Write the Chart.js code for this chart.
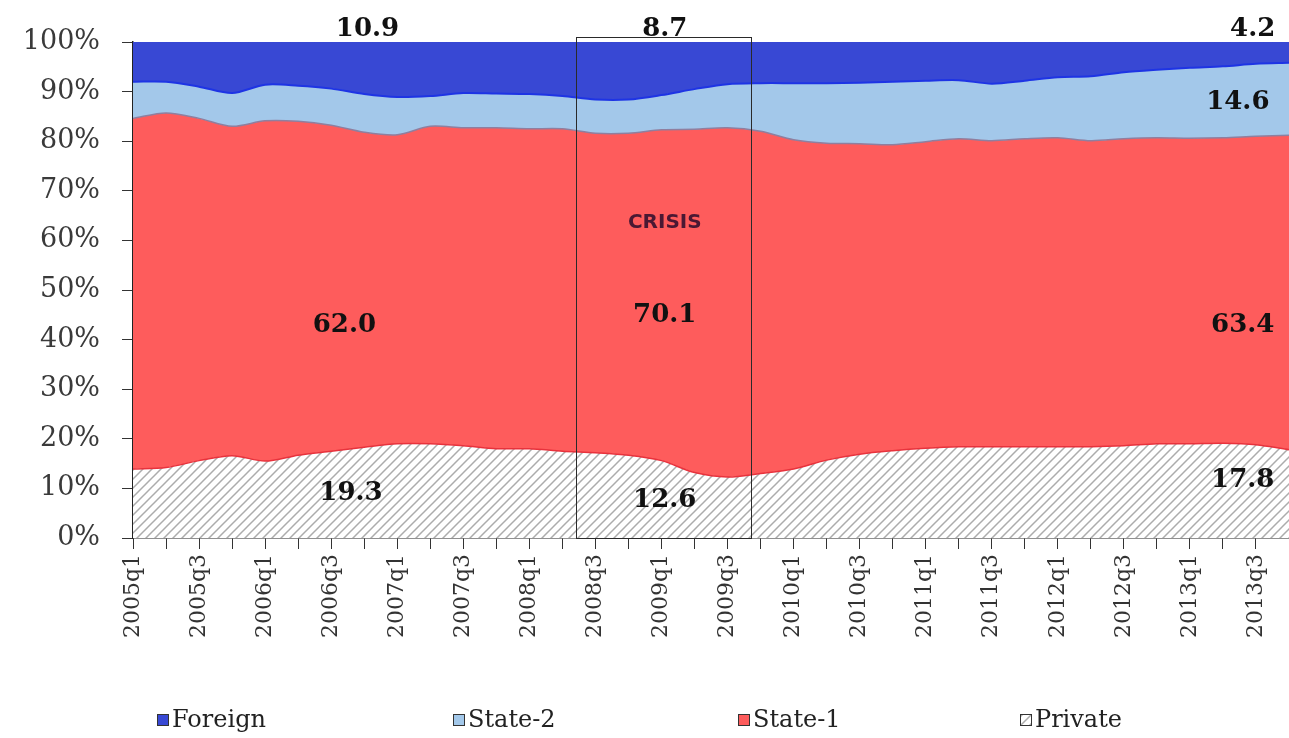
<!DOCTYPE html>
<html>
<head>
<meta charset="utf-8">
<script src="https://cdn.jsdelivr.net/npm/chart.js@4.4.1/dist/chart.umd.min.js"></script>
<style>
  html, body { margin: 0; padding: 0; background: #fff; }
  #wrap { width: 1289px; height: 738px; }
</style>
</head>
<body>
<div id="wrap"><canvas id="shareChart"></canvas></div>
<script>
const quarters = [
  '2005q1','2005q2','2005q3','2005q4','2006q1','2006q2','2006q3','2006q4',
  '2007q1','2007q2','2007q3','2007q4','2008q1','2008q2','2008q3','2008q4',
  '2009q1','2009q2','2009q3','2009q4','2010q1','2010q2','2010q3','2010q4',
  '2011q1','2011q2','2011q3','2011q4','2012q1','2012q2','2012q3','2012q4',
  '2013q1','2013q2','2013q3','2013q4'
];
const tickLabels = [
  '2005q1','2005q3','2006q1','2006q3','2007q1','2007q3','2008q1','2008q3','2009q1',
  '2009q3','2010q1','2010q3','2011q1','2011q3','2012q1','2012q3','2013q1','2013q3'
];

// shares in %, bottom to top
const privateShare = [
  13.9, 14.2, 15.6, 16.6, 15.5, 16.7, 17.5, 18.3, 19.0, 19.0, 18.6, 18.0,
  18.0, 17.5, 17.2, 16.7, 15.6, 13.2, 12.3, 13.0, 13.9, 15.7, 16.9, 17.6,
  18.1, 18.4, 18.4, 18.4, 18.4, 18.4, 18.6, 19.0, 19.0, 19.1, 18.8, 17.8
];
const state1Share = [
  70.7, 71.5, 69.0, 66.4, 68.6, 67.3, 65.7, 63.5, 62.3, 64.0, 64.1, 64.7,
  64.5, 65.0, 64.4, 64.9, 66.7, 69.2, 70.4, 69.0, 66.4, 63.9, 62.6, 61.7,
  61.8, 62.1, 61.7, 62.1, 62.3, 61.7, 61.9, 61.7, 61.6, 61.6, 62.2, 63.4
];
const state2Share = [
  7.4, 6.3, 6.4, 6.7, 7.3, 7.2, 7.4, 7.7, 7.6, 6.1, 7.0, 6.9,
  7.0, 6.6, 6.8, 6.8, 7.0, 8.1, 8.8, 9.7, 11.4, 12.1, 12.3, 12.7,
  12.3, 11.8, 11.5, 11.7, 12.2, 13.0, 13.4, 13.7, 14.2, 14.4, 14.6, 14.6
];
const foreignShare = [
  8.0, 8.0, 9.0, 10.3, 8.6, 8.8, 9.4, 10.5, 11.1, 10.9, 10.3, 10.4,
  10.5, 10.9, 11.6, 11.6, 10.7, 9.5, 8.5, 8.3, 8.3, 8.3, 8.2, 8.0,
  7.8, 7.7, 8.4, 7.8, 7.1, 6.9, 6.1, 5.6, 5.2, 4.9, 4.4, 4.2
];

// period averages: pre-crisis, crisis, post-crisis
const foreignAvg = [10.9, 8.7, 4.2];
const state2Avg = [null, null, 14.6];
const state1Avg = [62.0, 70.1, 63.4];
const privateAvg = [19.3, 12.6, 17.8];
const crisisFrom = 13.4;   // category index where the crisis box starts
const crisisTo = 18.7;

const serif = '"DejaVu Serif", serif';

function hatchPattern() {
  const c = document.createElement('canvas');
  c.width = 9; c.height = 9;
  const g = c.getContext('2d');
  g.fillStyle = '#ffffff';
  g.fillRect(0, 0, 9, 9);
  g.strokeStyle = '#acacac';
  g.lineWidth = 1.5;
  g.beginPath();
  g.moveTo(-1, 10); g.lineTo(10, -1);
  g.moveTo(-1, 1); g.lineTo(1, -1);
  g.moveTo(8, 10); g.lineTo(10, 8);
  g.stroke();
  return g.createPattern(c, 'repeat');
}

const overlayPlugin = {
  id: 'overlay',
  afterDatasetsDraw(chart) {
    const { ctx, scales: { x, y } } = chart;
    ctx.save();
    // crisis box
    const x0 = x.getPixelForValue(crisisFrom);
    const x1 = x.getPixelForValue(crisisTo);
    const yt = y.getPixelForValue(101);
    const yb = y.getPixelForValue(0);
    ctx.strokeStyle = '#2a2a2a';
    ctx.lineWidth = 1;
    ctx.strokeRect(Math.round(x0) + 0.5, Math.round(yt) + 0.5, Math.round(x1 - x0), Math.round(yb - yt));

    ctx.textAlign = 'center';
    ctx.textBaseline = 'middle';
    ctx.fillStyle = '#4a1833';
    ctx.font = 'bold 20px "DejaVu Sans", sans-serif';
    ctx.fillText('CRISIS', x.getPixelForValue(16.1), y.getPixelForValue(63.5));

    ctx.fillStyle = '#111';
    ctx.font = 'bold 26px ' + serif;
    const fx = [7.1, 16.1, 33.9];
    foreignAvg.forEach((v, k) => {
      ctx.fillText(v.toFixed(1), x.getPixelForValue(fx[k]), y.getPixelForValue(102.6));
    });
    state2Avg.forEach((v) => {
      if (v === null) return;
      ctx.fillText(v.toFixed(1), x.getPixelForValue(33.45), y.getPixelForValue(87.9));
    });
    const s1x = [6.4, 16.1, 33.6];
    const s1y = [42.9, 45.0, 42.9];
    state1Avg.forEach((v, k) => {
      ctx.fillText(v.toFixed(1), x.getPixelForValue(s1x[k]), y.getPixelForValue(s1y[k]));
    });
    const prx = [6.6, 16.1, 33.6];
    const pry = [9.1, 7.7, 11.7];
    privateAvg.forEach((v, k) => {
      ctx.fillText(v.toFixed(1), x.getPixelForValue(prx[k]), y.getPixelForValue(pry[k]));
    });
    ctx.restore();
  }
};

const legendPlugin = {
  id: 'bottomLegend',
  afterDraw(chart) {
    const ctx = chart.ctx;
    const starts = [157, 453, 738, 1020];
    const yc = 720;
    const order = [3, 2, 1, 0];
    ctx.save();
    ctx.font = '24px ' + serif;
    ctx.textBaseline = 'middle';
    ctx.textAlign = 'left';
    order.forEach((di, k) => {
      const ds = chart.data.datasets[di];
      ctx.fillStyle = ds.backgroundColor;
      ctx.fillRect(starts[k], yc - 6, 12, 12);
      ctx.strokeStyle = '#333';
      ctx.lineWidth = 1;
      ctx.strokeRect(starts[k] + 0.5, yc - 5.5, 11, 11);
      ctx.fillStyle = '#222';
      ctx.fillText(ds.label, starts[k] + 15, yc + 1);
    });
    ctx.restore();
  }
};

const ctx = document.getElementById('shareChart').getContext('2d');
new Chart(ctx, {
  type: 'line',
  data: {
    labels: quarters,
    datasets: [
      { label: 'Private', data: privateShare, fill: 'origin',
        backgroundColor: hatchPattern(), borderColor: '#e8323c', borderWidth: 1.5 },
      { label: 'State-1', data: state1Share, fill: '-1',
        backgroundColor: '#fe5c5c', borderColor: '#8f7f9f', borderWidth: 1.5 },
      { label: 'State-2', data: state2Share, fill: '-1',
        backgroundColor: '#a3c8ea', borderColor: '#1e34e4', borderWidth: 2 },
      { label: 'Foreign', data: foreignShare, fill: '-1',
        backgroundColor: '#3848d4', borderColor: '#3848d4', borderWidth: 1 }
    ]
  },
  options: {
    responsive: true,
    maintainAspectRatio: false,
    animation: false,
    layout: { autoPadding: false, padding: { top: 42, bottom: 60, right: 0, left: 0 } },
    elements: { point: { radius: 0 }, line: { tension: 0.3 } },
    plugins: {
      legend: { display: false },
      tooltip: { enabled: false }
    },
    scales: {
      x: {
        grid: { drawOnChartArea: false, drawTicks: true, tickLength: 11, color: '#333' },
        border: { display: true, color: '#222', width: 1.5 },
        ticks: {
          autoSkip: false, maxRotation: 90, minRotation: 90, padding: 5,
          color: '#333', font: { family: serif, size: 22 },
          callback: function (v, i) {
            const q = quarters[i];
            return tickLabels.includes(q) ? q : '';
          }
        },
        afterFit: (axis) => {
          axis.height = 140;
          axis.paddingLeft = 0;
          axis.paddingRight = 0;
        }
      },
      y: {
        stacked: true,
        min: 0, max: 100,
        grid: { drawOnChartArea: false, drawTicks: true, tickLength: 11, color: '#333' },
        border: { display: true, color: '#222', width: 1.5 },
        ticks: {
          stepSize: 10, padding: 22, color: '#3a3a3a',
          font: { family: serif, size: 27 },
          callback: (v) => v + '%'
        },
        afterFit: (axis) => {
          axis.width = 133;
          axis.paddingTop = 0;
          axis.paddingBottom = 0;
        }
      }
    }
  },
  plugins: [overlayPlugin, legendPlugin]
});
</script>
</body>
</html>
